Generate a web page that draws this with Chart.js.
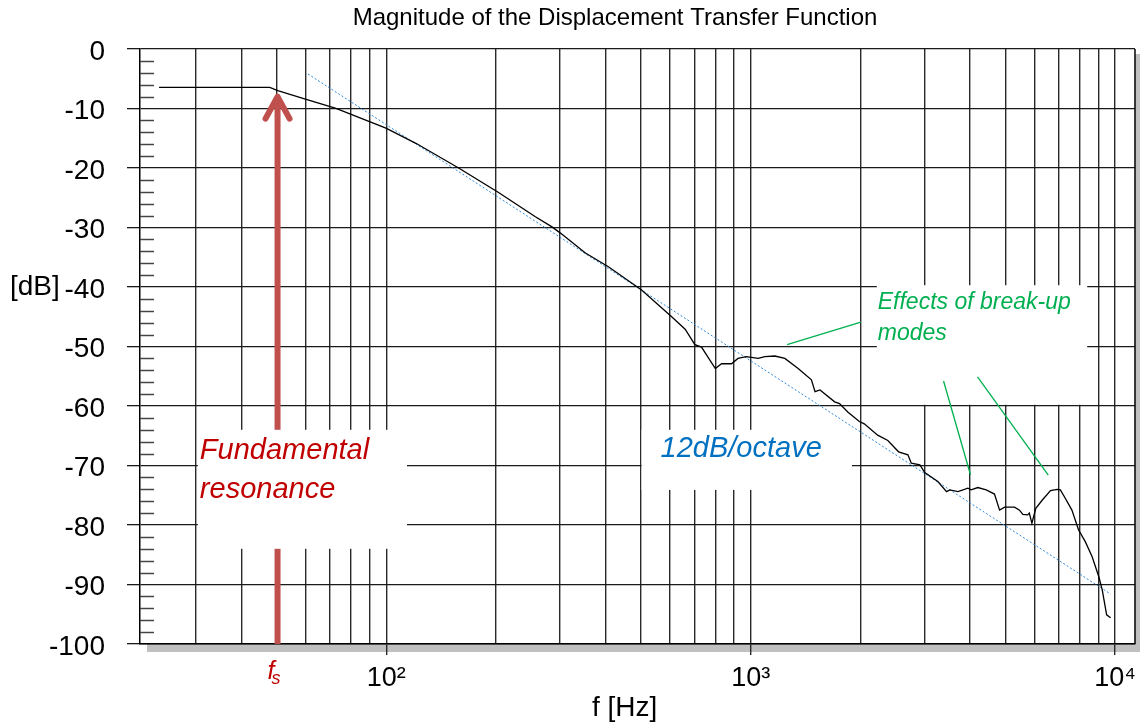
<!DOCTYPE html>
<html>
<head>
<meta charset="utf-8">
<script src="https://cdn.jsdelivr.net/npm/chart.js@4.4.1/dist/chart.umd.min.js"></script>
<style>
  html, body { margin: 0; padding: 0; background: #fff; }
  canvas { display: block; }
</style>
</head>
<body>
<canvas id="chart" width="1143" height="725"></canvas>
<script>
// measured magnitude curve (Hz, dB)
const freqs = [23.8, 47.9, 50.4, 60.3, 72.8, 99.8, 120.6, 158.4, 203.8, 256.6, 285, 300, 352, 407, 502, 607, 661, 703, 733, 800,
  832, 886, 923, 972, 1049, 1093, 1165, 1241, 1350, 1468, 1502, 1550, 1700, 1753, 1847, 1987, 2050, 2231, 2379, 2546,
  2701, 2759, 2913, 3004, 3263, 3448, 3519, 3706, 3945, 4027, 4201, 4430, 4667, 4820, 4977, 5299, 5467, 5582, 5757, 5815,
  5912, 6060, 6315, 6651, 6932, 7076, 7300, 7612, 7936, 8283, 8645, 9024, 9220, 9480, 9720];
const magDb = [-6.45, -6.45, -7.0, -8.46, -9.97, -13.3, -15.85, -20.05, -24.15, -28.2, -29.9, -30.9, -34.3, -36.6, -40.5, -45.0, -47.1, -49.7, -50.1, -53.7,
  -52.9, -52.9, -52.0, -51.7, -52.0, -51.7, -51.6, -52.0, -53.7, -55.6, -57.6, -57.3, -59.3, -59.6, -61.0, -62.6, -63.0, -64.9, -65.8, -67.7,
  -68.2, -69.6, -69.9, -71.2, -72.7, -74.4, -74.1, -74.4, -73.8, -74.1, -73.7, -74.1, -74.8, -77.5, -77.0, -77.0, -77.5, -78.2, -78.3, -78.0,
  -79.7, -77.2, -75.8, -74.2, -74.0, -74.1, -75.5, -77.5, -80.8, -82.8, -85.3, -88.7, -90.9, -95.1, -95.6];

// 12 dB/octave reference line
const slopeFreqs = [61, 9720];
const slopeDb = [-4.2, -91.6];

// axes
const xGridFreqs = [30, 40, 50, 60, 70, 80, 90, 100, 200, 300, 400, 500, 600, 700, 800, 900,
  1000, 2000, 3000, 4000, 5000, 6000, 7000, 8000, 9000, 10000];
const xTickFreqs = [100, 1000, 10000];
const xTickLabels = ['10²', '10³', '10⁴'];
const yMin = -100, yMax = 0, yStep = 10, yMinorStep = 2;

const fsFreq = 50;      // fundamental resonance
const arrowTipDb = -8;

const FONT = '"Liberation Sans", Arial, sans-serif';
const RED = '#c00000', BLUE = '#0070c0', GREEN = '#00b050', ARROW = '#c0504d';

// annotation boxes in data units: [f0, f1, dbTop, dbBottom]
const boxes = [
  [30.4, 114, -64, -84],
  [502, 1896, -64, -74.1],
  [2219, 8384, -39.7, -59.8]
];
const notes = [
  { text: 'Fundamental', f: 30.8, db: -68.9, color: RED, size: 29 },
  { text: 'resonance', f: 30.8, db: -75.5, color: RED, size: 29 },
  { text: '12dB/octave', f: 566, db: -68.6, color: BLUE, size: 29 },
  { text: 'Effects of break-up', f: 2232, db: -43.7, color: GREEN, size: 23 },
  { text: 'modes', f: 2232, db: -48.9, color: GREEN, size: 23 }
];
const pointers = [
  [1259, -49.7, 2006, -45.9],
  [3383, -55.8, 4012, -71.6],
  [4194, -55.1, 6557, -71.6]
];

const decor = {
  id: 'decor',
  beforeDraw(chart) {
    const { ctx, chartArea: a } = chart;
    ctx.save();
    ctx.fillStyle = '#c0c0c0';
    ctx.fillRect(a.left + 7, a.bottom, a.right + 5 - (a.left + 7), 8);
    ctx.fillRect(a.right, a.top + 5, 5, a.bottom - a.top);
    ctx.restore();
  },
  beforeDatasetsDraw(chart) {
    const { ctx, chartArea: a, scales: { x, y } } = chart;
    ctx.save();
    // right frame
    ctx.strokeStyle = '#000'; ctx.lineWidth = 1.5;
    ctx.beginPath(); ctx.moveTo(a.right, a.top); ctx.lineTo(a.right, a.bottom); ctx.stroke();
    // minor y ticks inside
    ctx.strokeStyle = '#444'; ctx.lineWidth = 1.5;
    for (let v = yMin + yMinorStep; v < yMax; v += yMinorStep) {
      if (v % yStep === 0) continue;
      const py = Math.round(y.getPixelForValue(v)) + 0.5;
      ctx.beginPath(); ctx.moveTo(a.left, py); ctx.lineTo(a.left + 14, py); ctx.stroke();
    }
    // resonance arrow
    const ax = x.getPixelForValue(fsFreq) + 1;
    const tip = y.getPixelForValue(arrowTipDb);
    ctx.strokeStyle = ARROW; ctx.lineWidth = 6;
    ctx.beginPath(); ctx.moveTo(ax, a.bottom); ctx.lineTo(ax, tip + 3); ctx.stroke();
    ctx.lineCap = 'round'; ctx.lineJoin = 'round';
    ctx.beginPath(); ctx.moveTo(ax - 12, tip + 22); ctx.lineTo(ax, tip); ctx.lineTo(ax + 12, tip + 22); ctx.stroke();
    // white label boxes
    ctx.fillStyle = '#fff';
    boxes.forEach(([f0, f1, d0, d1]) => {
      const x0 = x.getPixelForValue(f0), x1 = x.getPixelForValue(f1);
      const y0 = y.getPixelForValue(d0), y1 = y.getPixelForValue(d1);
      ctx.fillRect(x0, y0, x1 - x0, y1 - y0);
    });
    // pointer lines
    ctx.strokeStyle = GREEN; ctx.lineWidth = 1.3; ctx.lineCap = 'butt';
    pointers.forEach(([f0, d0, f1, d1]) => {
      ctx.beginPath();
      ctx.moveTo(x.getPixelForValue(f0), y.getPixelForValue(d0));
      ctx.lineTo(x.getPixelForValue(f1), y.getPixelForValue(d1));
      ctx.stroke();
    });
    // notes
    ctx.textBaseline = 'alphabetic'; ctx.textAlign = 'left';
    notes.forEach(n => {
      ctx.fillStyle = n.color;
      ctx.font = `italic ${n.size}px ${FONT}`;
      ctx.fillText(n.text, x.getPixelForValue(n.f), y.getPixelForValue(n.db));
    });
    ctx.restore();
  },
  afterDraw(chart) {
    const { ctx, chartArea: a, scales: { x, y } } = chart;
    ctx.save();
    ctx.fillStyle = '#000';
    ctx.textBaseline = 'alphabetic';
    ctx.font = `24px ${FONT}`; ctx.textAlign = 'center';
    ctx.fillText('Magnitude of the Displacement Transfer Function', 615, 25);
    ctx.font = `28px ${FONT}`; ctx.textAlign = 'left';
    ctx.fillText('[dB]', 10, y.getPixelForValue(-40) + 8);
    ctx.fillText('f [Hz]', 592, a.bottom + 72);
    // f_s label
    const fx = x.getPixelForValue(fsFreq);
    ctx.fillStyle = RED;
    ctx.font = `italic 25px ${FONT}`; ctx.textAlign = 'right';
    ctx.fillText('f', fx - 2, a.bottom + 35);
    ctx.font = `italic 18px ${FONT}`; ctx.textAlign = 'left';
    ctx.fillText('s', fx - 5, a.bottom + 40);
    ctx.restore();
  }
};

new Chart(document.getElementById('chart'), {
  type: 'line',
  data: {
    datasets: [
      {
        data: freqs.map((f, i) => ({ x: f, y: magDb[i] })),
        borderColor: '#000', borderWidth: 1.3, pointRadius: 0, tension: 0
      },
      {
        data: slopeFreqs.map((f, i) => ({ x: f, y: slopeDb[i] })),
        borderColor: '#2b88d8', borderWidth: 1, borderDash: [2, 2], pointRadius: 0
      }
    ]
  },
  options: {
    responsive: false, animation: false, devicePixelRatio: 1,
    layout: { padding: { top: 49, left: 0, right: 5, bottom: 0 } },
    plugins: { legend: { display: false }, tooltip: { enabled: false } },
    scales: {
      x: {
        type: 'logarithmic', min: 21.1, max: 11340,
        afterBuildTicks: s => { s.ticks = xGridFreqs.map(v => ({ value: v })); },
        afterFit: s => { s.height = 81; },
        ticks: {
          autoSkip: false, maxRotation: 0, padding: 7, color: '#000',
          font: { size: 27, family: FONT },
          callback: v => { const i = xTickFreqs.indexOf(v); return i >= 0 ? xTickLabels[i] : ''; }
        },
        grid: {
          color: '#2a2a2a', lineWidth: 1.4, tickLength: 11,
          tickColor: c => xTickFreqs.includes(c.tick && c.tick.value) ? '#2a2a2a' : 'rgba(0,0,0,0)'
        },
        border: { color: '#000', width: 1.5 }
      },
      y: {
        min: yMin, max: yMax,
        afterFit: s => { s.width = 140; },
        ticks: {
          stepSize: yStep, padding: 22, labelOffset: 3, color: '#000',
          font: { size: 28, family: FONT },
          callback: v => String(v)
        },
        grid: { color: '#1a1a1a', lineWidth: 1.3, tickLength: 13 },
        border: { color: '#000', width: 1.5 }
      }
    }
  },
  plugins: [decor]
});
</script>
</body>
</html>
